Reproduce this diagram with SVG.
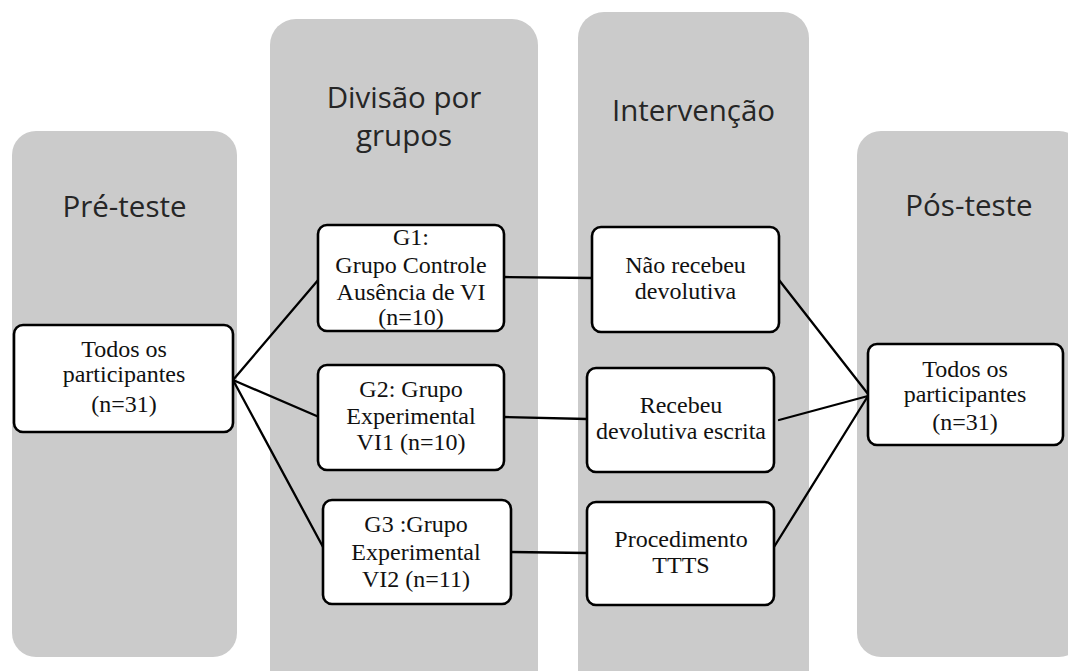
<svg xmlns="http://www.w3.org/2000/svg" width="1068" height="671" viewBox="0 0 1068 671">
<style>
.col{fill:#cbcbcb;}
.title{font-family:"Open Sans","Liberation Sans",sans-serif;font-size:29.5px;fill:#262626;text-anchor:middle;}
.box{fill:#ffffff;stroke:#000000;stroke-width:2.6;}
.lbl{font-family:"Liberation Serif","Times New Roman",serif;font-size:24px;fill:#111111;text-anchor:middle;}
.conn{stroke:#000000;stroke-width:2.3;fill:none;stroke-linecap:round;}
</style>
<rect width="1068" height="671" fill="#ffffff"/>
<g id="col-pre">
<rect class="col" x="12" y="131" width="225" height="526" rx="24"/>
<text class="title" x="124.5" y="217">Pré-teste</text>
</g>
<g id="col-div">
<rect class="col" x="270" y="19" width="268" height="680" rx="26"/>
<text class="title" x="404" y="108">Divisão por</text>
<text class="title" x="404" y="146">grupos</text>
</g>
<g id="col-int">
<rect class="col" x="578" y="12" width="231" height="690" rx="26"/>
<text class="title" x="693.5" y="121">Intervenção</text>
</g>
<g id="col-pos">
<rect class="col" x="857" y="131" width="226" height="526" rx="24"/>
<text class="title" x="969" y="216">Pós-teste</text>
</g>
<g id="connectors">
<line class="conn" x1="233" y1="380" x2="319" y2="279"/>
<line class="conn" x1="233" y1="380" x2="319" y2="417"/>
<line class="conn" x1="233" y1="380" x2="323" y2="547"/>
<line class="conn" x1="504" y1="277" x2="592" y2="278"/>
<line class="conn" x1="504" y1="417" x2="587" y2="419"/>
<line class="conn" x1="511" y1="552" x2="587" y2="553"/>
<line class="conn" x1="779" y1="280" x2="868" y2="394"/>
<line class="conn" x1="779" y1="420" x2="868" y2="396"/>
<line class="conn" x1="774" y1="547" x2="868" y2="396"/>
</g>
<g id="pre-all">
<rect class="box" x="14" y="325" width="219" height="107" rx="9"/>
<text class="lbl" x="124" y="357">Todos os</text>
<text class="lbl" x="124" y="382">participantes</text>
<text class="lbl" x="124" y="412">(n=31)</text>
</g>
<g id="g1">
<rect class="box" x="318" y="225" width="186" height="106" rx="9"/>
<text class="lbl" x="411" y="245">G1:</text>
<text class="lbl" x="411" y="273">Grupo Controle</text>
<text class="lbl" x="411" y="300">Ausência de VI</text>
<text class="lbl" x="411" y="325">(n=10)</text>
</g>
<g id="g2">
<rect class="box" x="318" y="365" width="186" height="105" rx="9"/>
<text class="lbl" x="411" y="397">G2: Grupo</text>
<text class="lbl" x="411" y="424">Experimental</text>
<text class="lbl" x="411" y="450">VI1 (n=10)</text>
</g>
<g id="g3">
<rect class="box" x="323" y="500" width="188" height="104" rx="9"/>
<text class="lbl" x="416" y="532">G3 :Grupo</text>
<text class="lbl" x="416" y="560">Experimental</text>
<text class="lbl" x="416" y="587">VI2 (n=11)</text>
</g>
<g id="int1">
<rect class="box" x="592" y="227" width="187" height="105" rx="9"/>
<text class="lbl" x="685.5" y="273">Não recebeu</text>
<text class="lbl" x="685.5" y="299">devolutiva</text>
</g>
<g id="int2">
<rect class="box" x="587" y="368" width="187" height="104" rx="9"/>
<text class="lbl" x="681" y="413">Recebeu</text>
<text class="lbl" x="681" y="439">devolutiva escrita</text>
</g>
<g id="int3">
<rect class="box" x="587" y="502" width="187" height="103" rx="9"/>
<text class="lbl" x="681" y="547">Procedimento</text>
<text class="lbl" x="681" y="573">TTTS</text>
</g>
<g id="pos-all">
<rect class="box" x="868" y="344" width="195" height="101" rx="9"/>
<text class="lbl" x="965" y="377">Todos os</text>
<text class="lbl" x="965" y="402">participantes</text>
<text class="lbl" x="965" y="430">(n=31)</text>
</g>
</svg>
